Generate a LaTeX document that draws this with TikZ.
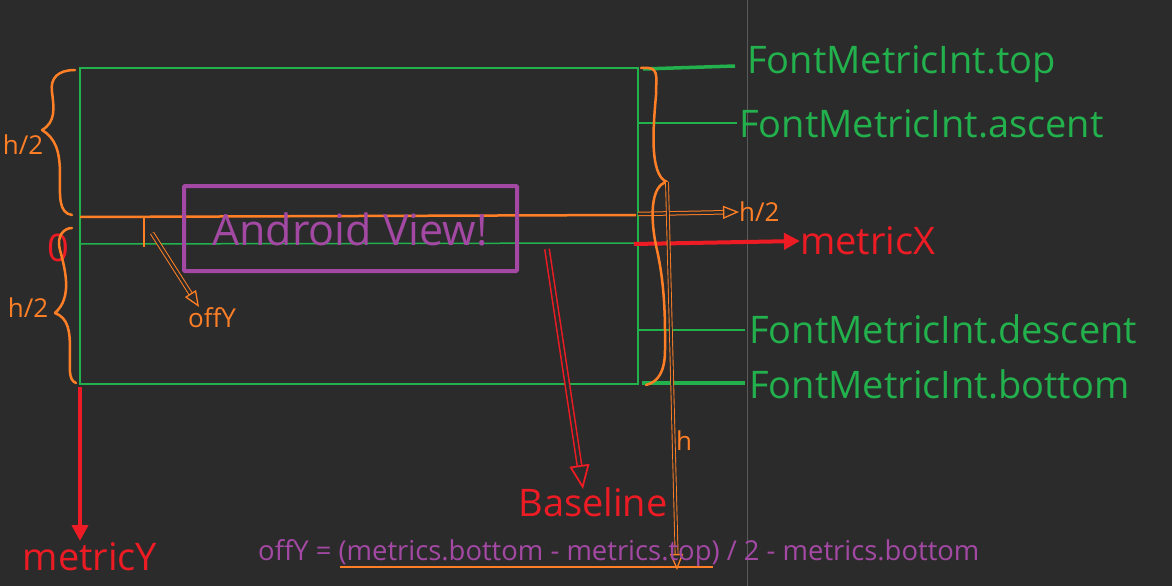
\documentclass[tikz,border=0pt]{standalone}
\usepackage{fontspec}
\setmainfont{Open Sans}
\usetikzlibrary{arrows.meta}
\definecolor{bg}{HTML}{2B2B2B}
\definecolor{grn}{HTML}{22B14C}
\definecolor{org}{HTML}{FF7F27}
\definecolor{pur}{HTML}{A349A4}
\definecolor{rd}{HTML}{ED1C24}
\definecolor{gry}{HTML}{5A5A5A}
\tikzset{
  big/.style={font=\fontsize{38}{42}\selectfont, inner sep=0pt},
  small/.style={font=\fontsize{26}{30}\selectfont, inner sep=0pt},
  glab/.style={big, text=grn, anchor=west},
  gline/.style={draw=grn, line width=1.5pt},
  gthick/.style={draw=grn, line width=3.5pt},
  brace/.style={draw=org, line width=2.5pt, line cap=round, line join=round},
  dblarrow/.style={double=bg, double distance=2.5pt, line width=1pt, -{Triangle[open, length=16pt, width=13pt, line width=1.3pt]}},
}
\begin{document}
\begin{tikzpicture}[x=1pt,y=-1pt]
\fill[bg] (0,0) rectangle (1172,586);
\useasboundingbox (0,0) rectangle (1172,586);
% grey divider
\draw[gry, line width=1pt] (747,0) -- (747,586);

% green frame
\coordinate (tl) at (80,68);
\coordinate (br) at (638,384);
\draw[gline] (tl) rectangle (br);
% baseline
\coordinate (bl1) at (80,244);
\coordinate (bl2) at (638,243);
\draw[gline] (bl1) -- (bl2);

% labels
\node[glab] (ltop) at (747,64) {FontMetricInt.top};
\node[glab] (lasc) at (739,124) {FontMetricInt.ascent};
\node[glab] (ldes) at (749,329) {FontMetricInt.descent};
\node[glab] (lbot) at (749,384) {FontMetricInt.bottom};

\coordinate (t1) at (643,69);
\coordinate (t2) at (735,66);
\draw[gthick] (t1) -- (t2);
\coordinate (a1) at (638,123);
\coordinate (a2) at (737,123);
\draw[gline] (a1) -- (a2);
\coordinate (d1) at (638,330);
\coordinate (d2) at (745,330);
\draw[gline] (d1) -- (d2);
\coordinate (b1) at (642,383);
\coordinate (b2) at (745,383);
\draw[gthick] (b1) -- (b2);

% orange center line
\coordinate (o1) at (80,217);
\coordinate (o2) at (636,215);
\draw[org, line width=2.5pt] (o1) -- (o2);
\node[small, text=org, anchor=west] (hhalf) at (739,212) {h/2};
\coordinate (o3) at (638,214);
\draw[org, dblarrow] (o3) -- (hhalf.west);

% offY tick
\coordinate (k1) at (144,217);
\coordinate (k2) at (144,247);
\draw[org, line width=2pt] (k1) -- (k2);
\node[small, text=org] (offy) at (212,318) {offY};
\coordinate (k3) at (152,233);
\coordinate (k4) at (199,307);
\draw[org, dblarrow] (k3) -- (k4);

% android view box
\node[draw=pur, line width=4pt, rounded corners=1pt, minimum width=333pt, minimum height=85pt, inner sep=0pt] (view) at (350.5,228.5) {};
\node[font=\fontsize{43}{46}\selectfont, text=pur, inner sep=0pt] (vtext) at (350,229) {Android View!};

% metricX
\node[big, text=rd, anchor=west] (mx) at (800,241) {metricX};
\coordinate (x1) at (634,244);
\draw[rd, line width=4pt, -{Triangle[length=16pt, width=16pt]}] (x1) -- (mx.west);

% Baseline
\node[big, text=rd] (base) at (593,502) {Baseline};
\coordinate (bs) at (547,249);
\coordinate (be) at (583,489);
\draw[rd, line width=1.5pt, double=bg, double distance=3pt, -{Triangle[open, length=24pt, width=20pt, line width=1.8pt]}] (bs) -- (be);

% metricY
\node[big, text=rd] (my) at (90,557) {metricY};
\coordinate (y1) at (80,387);
\coordinate (y2) at (80,541);
\draw[rd, line width=4pt, -{Triangle[length=16pt, width=16pt]}] (y1) -- (y2);

% zero
\node[big, text=rd] (zero) at (58,248) {0};

% left braces
\draw[brace] (75,70) .. controls (58,70) and (50,78) .. (52,92)
  .. controls (54,108) and (56,122) .. (42,130)
  .. controls (55,138) and (60,150) .. (60,175)
  .. controls (60,195) and (58,213) .. (72,215);
\node[small, text=org] (h2a) at (23,145) {h/2};
\draw[brace] (72,228) .. controls (64,228) and (56,236) .. (60,250)
  .. controls (66,272) and (72,298) .. (55,313)
  .. controls (68,318) and (70,330) .. (70,350)
  .. controls (70,368) and (68,380) .. (76,383);
\node[small, text=org] (h2b) at (28,308) {h/2};

% right big brace
\draw[brace] (641,68) .. controls (660,66) and (656,75) .. (656,95)
  .. controls (654,120) and (648,175) .. (667,182)
  .. controls (650,185) and (650,220) .. (657,250)
  .. controls (666,290) and (665,330) .. (665,350)
  .. controls (665,372) and (658,382) .. (646,385);

% h arrow
\node[small, text=org] (hlab) at (684,441) {h};
\coordinate (h1) at (667,182);
\coordinate (h2) at (677,570);
\draw[org, dblarrow, line width=0.9pt, double distance=2pt] (h1) -- (h2);

% formula
\node[font=\fontsize{27.4}{30}\selectfont, text=pur, inner sep=0pt, anchor=west] (form) at (258,553) {offY = (metrics.bottom - metrics.top) / 2 - metrics.bottom};
\coordinate (u1) at (340,567);
\coordinate (u2) at (713,567);
\draw[org, line width=2.5pt] (u1) -- (u2);
\end{tikzpicture}
\end{document}
